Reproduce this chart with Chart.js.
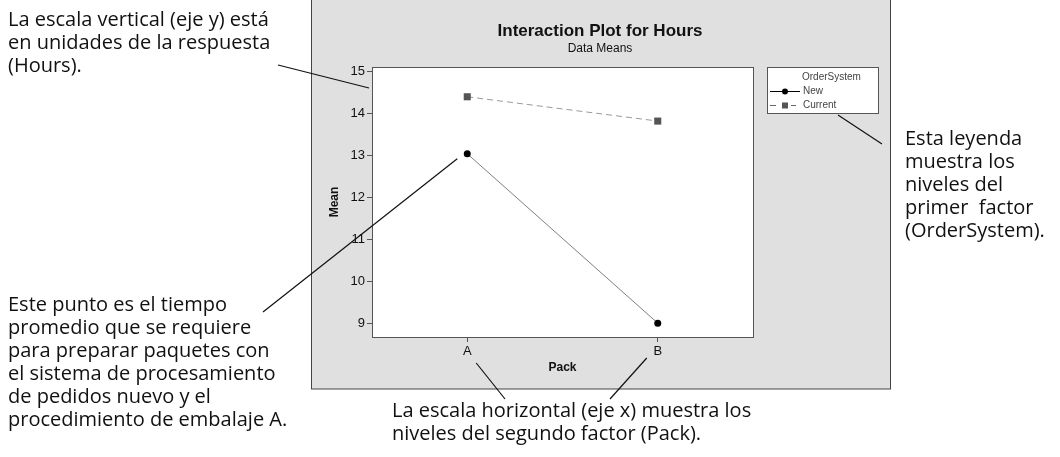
<!DOCTYPE html>
<html>
<head>
<meta charset="utf-8">
<script src="https://cdn.jsdelivr.net/npm/chart.js@4.4.1/dist/chart.umd.min.js"></script>
<style>
  html, body { margin: 0; padding: 0; background: #fff; }
  #wrap { width: 1060px; height: 457px; position: relative; }
</style>
</head>
<body>
<div id="wrap"><canvas id="interactionChart"></canvas></div>
<script>
// data
const packLevels = ['A', 'B'];
const seriesNames = ['New', 'Current'];
const newMeans = [13.04, 9.0];
const currentMeans = [14.40, 13.82];
const yTicks = [9, 10, 11, 12, 13, 14, 15];

// callout texts
const noteYAxis = ['La escala vertical (eje y) está', 'en unidades de la respuesta', '(Hours).'];
const notePoint = ['Este punto es el tiempo', 'promedio que se requiere', 'para preparar paquetes con',
  'el sistema de procesamiento', 'de pedidos nuevo y el', 'procedimiento de embalaje A.'];
const noteXAxis = ['La escala horizontal (eje x) muestra los', 'niveles del segundo factor (Pack).'];
const noteLegend = ['Esta leyenda', 'muestra los', 'niveles del', 'primer  factor', '(OrderSystem).'];

const chartFont = '"Liberation Sans", Arial, sans-serif';
const noteFont = '20px "Open Sans", sans-serif';

function drawLines(ctx, lines, x, y0, step) {
  lines.forEach((t, i) => ctx.fillText(t, x, y0 + i * step));
}

function leader(ctx, x1, y1, x2, y2) {
  ctx.beginPath();
  ctx.moveTo(x1, y1);
  ctx.lineTo(x2, y2);
  ctx.stroke();
}

const pagePlugin = {
  id: 'page',
  beforeDraw(chart) {
    const ctx = chart.ctx, a = chart.chartArea;
    ctx.save();
    ctx.fillStyle = '#fff';
    ctx.fillRect(0, 0, chart.width, chart.height);
    // gray panel
    ctx.fillStyle = '#e0e0e0';
    ctx.fillRect(311, -2, 579, 391);
    ctx.strokeStyle = '#444';
    ctx.lineWidth = 1;
    ctx.strokeRect(311.5, -2, 579, 391);
    // white plot area
    ctx.fillStyle = '#fff';
    ctx.fillRect(a.left, a.top, a.width, a.height);
    ctx.restore();
  },
  afterDraw(chart) {
    const ctx = chart.ctx, a = chart.chartArea;
    const xs = chart.scales.x, ys = chart.scales.y;
    const ds = chart.data.datasets;
    ctx.save();

    // plot frame
    ctx.strokeStyle = '#555';
    ctx.lineWidth = 1;
    ctx.strokeRect(Math.round(a.left) + 0.5, Math.round(a.top) + 0.5, Math.round(a.width), Math.round(a.height));

    // title + subtitle
    ctx.fillStyle = '#111';
    ctx.textAlign = 'center';
    ctx.textBaseline = 'middle';
    ctx.font = 'bold 17px ' + chartFont;
    ctx.fillText('Interaction Plot for Hours', 600, 31);
    ctx.font = '12px ' + chartFont;
    ctx.fillText('Data Means', 600, 49);

    // legend
    const lx = 767, ly = 67;
    ctx.fillStyle = '#fff';
    ctx.fillRect(lx, ly, 111, 46);
    ctx.strokeStyle = '#555';
    ctx.strokeRect(lx + 0.5, ly + 0.5, 111, 46);
    ctx.font = '10px ' + chartFont;
    ctx.textAlign = 'left';
    ctx.fillStyle = '#444';
    ctx.fillText('OrderSystem', 802, 77);
    ds.forEach((d, i) => {
      const yy = 91 + i * 14;
      ctx.strokeStyle = i === 0 ? '#000' : '#666';
      ctx.setLineDash(d.borderDash || []);
      ctx.lineWidth = 1;
      leader(ctx, 770, yy + 0.5, 800, yy + 0.5);
      ctx.setLineDash([]);
      ctx.fillStyle = d.pointBackgroundColor;
      if (d.pointStyle === 'rect') {
        ctx.fillStyle = '#fff';
        ctx.fillRect(779, yy - 4, 12, 9);
        ctx.fillStyle = d.pointBackgroundColor;
        ctx.fillRect(782, yy - 2.5, 6, 6);
      } else {
        ctx.beginPath();
        ctx.arc(785, yy + 0.5, 3, 0, Math.PI * 2);
        ctx.fill();
      }
      ctx.fillStyle = '#444';
      ctx.fillText(d.label, 803, yy);
    });

    // callout texts
    ctx.fillStyle = '#111';
    ctx.font = noteFont;
    ctx.textAlign = 'left';
    drawLines(ctx, noteYAxis, 8, 20, 23);
    drawLines(ctx, notePoint, 8, 305, 23);
    drawLines(ctx, noteXAxis, 392, 411, 23);
    drawLines(ctx, noteLegend, 905, 139, 23);

    // leader lines
    const xA = xs.getPixelForValue(0), xB = xs.getPixelForValue(1);
    ctx.strokeStyle = '#111';
    ctx.lineWidth = 1.2;
    leader(ctx, 278, 65, a.left - 3, 88);
    leader(ctx, 263, 312, xA - 10, ys.getPixelForValue(newMeans[0]) + 5);
    leader(ctx, xA + 9, a.bottom + 26, 505, 399);
    leader(ctx, xB - 11, a.bottom + 21, 610, 399);
    leader(ctx, 838, ly + 48, 882, 144);
    ctx.restore();
  }
};

new Chart(document.getElementById('interactionChart'), {
  type: 'line',
  data: {
    labels: packLevels,
    datasets: [
      {
        label: seriesNames[0],
        data: newMeans,
        borderColor: '#808080',
        borderWidth: 1,
        pointStyle: 'circle',
        pointRadius: 3.5,
        pointBackgroundColor: '#000',
        pointBorderColor: '#000',
        pointBorderWidth: 0
      },
      {
        label: seriesNames[1],
        data: currentMeans,
        borderColor: '#9a9a9a',
        borderWidth: 1,
        borderDash: [6, 4],
        pointStyle: 'rect',
        pointRadius: 5,
        pointBackgroundColor: '#555',
        pointBorderColor: '#555',
        pointBorderWidth: 0
      }
    ]
  },
  options: {
    responsive: true,
    maintainAspectRatio: false,
    animation: false,
    layout: {
      padding: { left: 310, top: 67, right: 307, bottom: 80 }
    },
    plugins: {
      legend: { display: false },
      title: { display: false },
      tooltip: { enabled: false }
    },
    scales: {
      x: {
        type: 'category',
        offset: true,
        afterFit(scale) { scale.height = 40; },
        grid: { drawOnChartArea: false, drawTicks: true, tickLength: 5, color: '#555', offset: false },
        border: { display: true, color: '#555' },
        ticks: { color: '#111', font: { family: chartFont, size: 13 }, padding: 2 },
        title: { display: true, text: 'Pack', color: '#111', font: { family: chartFont, size: 12, weight: 'bold' }, padding: { top: 0, bottom: 2 } }
      },
      y: {
        min: 8.67,
        max: 15.11,
        afterFit(scale) { scale.width = 62; },
        afterBuildTicks(scale) { scale.ticks = yTicks.map(v => ({ value: v })); },
        grid: { drawOnChartArea: false, drawTicks: true, tickLength: 5, color: '#555' },
        border: { display: true, color: '#555' },
        ticks: { color: '#111', font: { family: chartFont, size: 13 }, padding: 2 },
        title: { display: true, text: 'Mean', color: '#111', font: { family: chartFont, size: 12, weight: 'bold' }, padding: { top: 17, bottom: 0 } }
      }
    }
  },
  plugins: [pagePlugin]
});
</script>
</body>
</html>
